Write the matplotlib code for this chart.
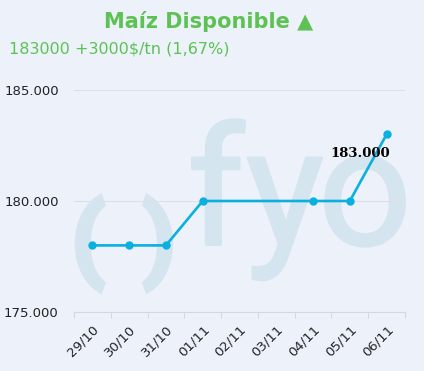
import numpy as np
from matplotlib import pyplot as plt
from matplotlib import patheffects as pe
from matplotlib.ticker import FixedLocator, FuncFormatter

# data
dates = ['29/10', '30/10', '31/10', '01/11', '02/11', '03/11', '04/11', '05/11', '06/11']
values = [178000, 178000, 178000, 180000, None, None, 180000, 180000, 183000]
yticks = [175000, 180000, 185000]

title = 'Maíz Disponible ▲'
subtitle = '183000 +3000$/tn (1,67%)'
last_label = '183.000'

bg = '#edf1fa'
green = '#5dc253'
line_c = '#0ab0e0'
mark_c = '#d5e5f0'

W, H = 424, 371
fig = plt.figure(figsize=(W / 100, H / 100), dpi=100, facecolor=bg)


def px(x, y):
    return x / W, 1 - y / H


ax = fig.add_axes([74 / W, 1 - 312 / H, (405 - 74) / W, (312 - 90) / H])
ax.set_facecolor('none')

# watermark logo behind the chart, thickened a bit with a stroke
wm = dict(family='Roboto', color=mark_c, zorder=-1)
thick = [pe.withStroke(linewidth=1.6, foreground=mark_c)]
thicker = [pe.withStroke(linewidth=6, foreground=mark_c, joinstyle='miter')]
fig.text(*px(216, 245), 'f', fontsize=119, ha='center', va='baseline',
         path_effects=thick, **wm)
fig.text(*px(285, 245), 'y', fontsize=119, ha='center', va='baseline',
         path_effects=thick, **wm)
fig.text(*px(365, 245), 'o', fontsize=119, ha='center', va='baseline',
         path_effects=thick, **wm)
fig.text(*px(88, 244), '(', fontsize=62, ha='center', va='center',
         path_effects=thicker, **wm)
fig.text(*px(160, 244), ')', fontsize=62, ha='center', va='center',
         path_effects=thicker, **wm)

xs = [i for i, v in enumerate(values) if v is not None]
ys = [v for v in values if v is not None]
ax.plot(xs, ys, color=line_c, lw=1.9, marker='o', ms=5, zorder=3)

ax.annotate(last_label, (xs[-1], ys[-1]), xytext=(-26, -19),
            textcoords='offset pixels', ha='center', va='center',
            fontsize=9.5, family='DejaVu Serif', weight='bold', color='black')

ax.set_xlim(-0.5, len(dates) - 0.5)
ax.set_ylim(175000, 185000)

ax.set_yticks(yticks)
ax.yaxis.set_major_formatter(FuncFormatter(lambda v, p: f'{v:,.0f}'.replace(',', '.')))
ax.tick_params(axis='y', length=0, pad=11, labelsize=9.5, labelcolor='#222222')
ax.grid(axis='y', color='#dcdfe6', lw=0.8)

ax.set_xticks(range(len(dates)))
ax.set_xticklabels(dates, rotation=45, ha='right', rotation_mode='anchor')
ax.xaxis.set_minor_locator(FixedLocator(np.arange(-0.5, len(dates), 1)))
ax.tick_params(axis='x', which='major', length=0, pad=8, labelsize=9.5, labelcolor='#222222')
ax.tick_params(axis='x', which='minor', length=4, color='#d4d8e0', width=0.8)

for s in ['top', 'right', 'left']:
    ax.spines[s].set_visible(False)
ax.spines['bottom'].set_color('#d4d8e0')
ax.spines['bottom'].set_linewidth(0.8)

fig.text(*px(209, 28), title, fontsize=15, weight='bold', color=green,
         ha='center', va='baseline')
fig.text(*px(9, 53), subtitle, fontsize=11.5, color=green, ha='left', va='baseline')

fig.savefig('out.png', dpi=100, facecolor=bg)
